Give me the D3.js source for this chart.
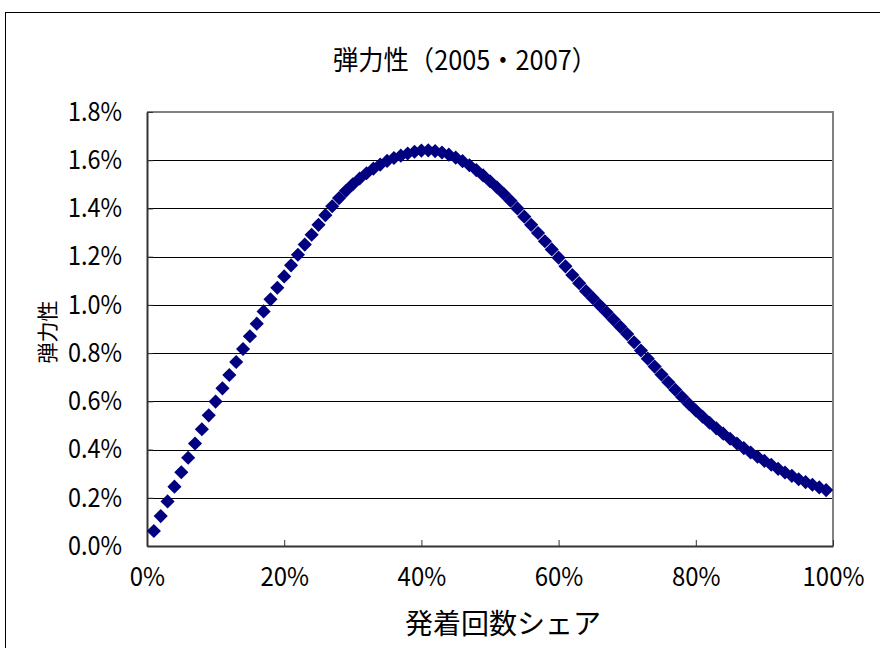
<!DOCTYPE html>
<html lang="ja">
<head>
<meta charset="UTF-8">
<title>弾力性（2005・2007）</title>
<script src="https://d3js.org/d3.v7.min.js"></script>
<style>
  body { margin: 0; background: #fff; }
  text { font-family: "Noto Sans CJK JP", "Noto Sans", sans-serif; fill: #000; }
</style>
</head>
<body>
<div id="chart"></div>
<script>
// 発着回数シェア (%)
const shares = d3.range(1, 100);
// 弾力性 (%), one value per share
const elasticity = [
  0.062, 0.124, 0.185, 0.246, 0.306, 0.366, 0.425, 0.484, 0.542, 0.599,
  0.654, 0.709, 0.763, 0.817, 0.870, 0.922, 0.973, 1.023, 1.071, 1.118,
  1.164, 1.208, 1.250, 1.291, 1.332, 1.372, 1.409, 1.443, 1.473, 1.500,
  1.524, 1.546, 1.565, 1.582, 1.597, 1.609, 1.619, 1.628, 1.635, 1.640,
  1.641, 1.638, 1.632, 1.623, 1.611, 1.596, 1.579, 1.559, 1.537, 1.513,
  1.488, 1.461, 1.432, 1.400, 1.366, 1.332, 1.298, 1.264, 1.230, 1.196,
  1.160, 1.124, 1.090, 1.057, 1.028, 0.998, 0.969, 0.939, 0.909, 0.879,
  0.845, 0.811, 0.777, 0.744, 0.711, 0.679, 0.648, 0.618, 0.589, 0.562,
  0.536, 0.511, 0.488, 0.466, 0.445, 0.425, 0.406, 0.388, 0.370, 0.353,
  0.337, 0.320, 0.305, 0.291, 0.277, 0.265, 0.254, 0.243, 0.232
];
const xTicks = [0, 20, 40, 60, 80, 100];
const yTicks = [0, 0.2, 0.4, 0.6, 0.8, 1.0, 1.2, 1.4, 1.6, 1.8];

const W = 880, H = 648;
const plot = { left: 147, right: 833, top: 112, bottom: 546 };

const svg = d3.select("#chart").append("svg")
  .attr("width", W).attr("height", H);

// squeeze a text horizontally (the original font is narrow)
function narrow(sel, k) {
  sel.each(function() {
    const len = this.getComputedTextLength();
    d3.select(this).attr("textLength", len * k).attr("lengthAdjust", "spacingAndGlyphs");
  });
}

// outer chart frame (runs off the right and bottom edges)
svg.append("rect")
  .attr("x", 5.5).attr("y", 12.5)
  .attr("width", 1000).attr("height", 1000)
  .attr("fill", "#fff").attr("stroke", "#000").attr("stroke-width", 1);

const x = d3.scaleLinear().domain([0, 100]).range([plot.left, plot.right]);
const y = d3.scaleLinear().domain([0, 1.8]).range([plot.bottom, plot.top]);

// gridlines
svg.append("g")
  .selectAll("line")
  .data(yTicks.slice(1, -1))
  .join("line")
    .attr("x1", plot.left).attr("x2", plot.right)
    .attr("y1", d => Math.round(y(d)) + 0.5).attr("y2", d => Math.round(y(d)) + 0.5)
    .attr("stroke", "#000").attr("stroke-width", 1);

// plot border: top / right grey
svg.append("path")
  .attr("d", `M${plot.left},${plot.top}H${plot.right}V${plot.bottom}`)
  .attr("fill", "none").attr("stroke", "#808080").attr("stroke-width", 2);

// axes
const xAxis = svg.append("g")
  .attr("transform", `translate(0,${plot.bottom})`)
  .call(d3.axisBottom(x).tickValues(xTicks).tickSizeInner(-6).tickSizeOuter(0)
    .tickFormat(d => d + "%").tickPadding(22));
const yAxis = svg.append("g")
  .attr("transform", `translate(${plot.left},0)`)
  .call(d3.axisLeft(y).tickValues(yTicks).tickSizeInner(-6).tickSizeOuter(0)
    .tickFormat(d => d.toFixed(1) + "%").tickPadding(25));

[xAxis, yAxis].forEach(a => {
  a.select(".domain").attr("stroke", "#333").attr("stroke-width", 2);
  a.selectAll(".tick line").attr("stroke", "#333");
  a.selectAll(".tick text").attr("font-size", 26)
    .style("font-family", '"Noto Sans CJK JP", sans-serif');
});
xAxis.selectAll(".tick text").attr("dy", "0.71em").call(narrow, 0.92);
yAxis.selectAll(".tick text").call(narrow, 0.9);

// points
svg.append("g")
  .selectAll("path")
  .data(shares)
  .join("path")
    .attr("transform", (d, i) => `translate(${x(d)},${y(elasticity[i])}) rotate(45)`)
    .attr("d", d3.symbol(d3.symbolSquare, 100))
    .attr("fill", "#000080");

// titles
svg.append("text")
  .attr("x", 465).attr("y", 70)
  .attr("text-anchor", "middle").attr("font-size", 27)
  .text("弾力性（2005・2007）")
  .attr("textLength", 264).attr("lengthAdjust", "spacingAndGlyphs");

svg.append("text")
  .attr("x", 503).attr("y", 634)
  .attr("text-anchor", "middle").attr("font-size", 28)
  .text("発着回数シェア");

svg.append("text")
  .attr("transform", "translate(55,332) rotate(-90)")
  .attr("text-anchor", "middle").attr("font-size", 21)
  .text("弾力性");
</script>
</body>
</html>
